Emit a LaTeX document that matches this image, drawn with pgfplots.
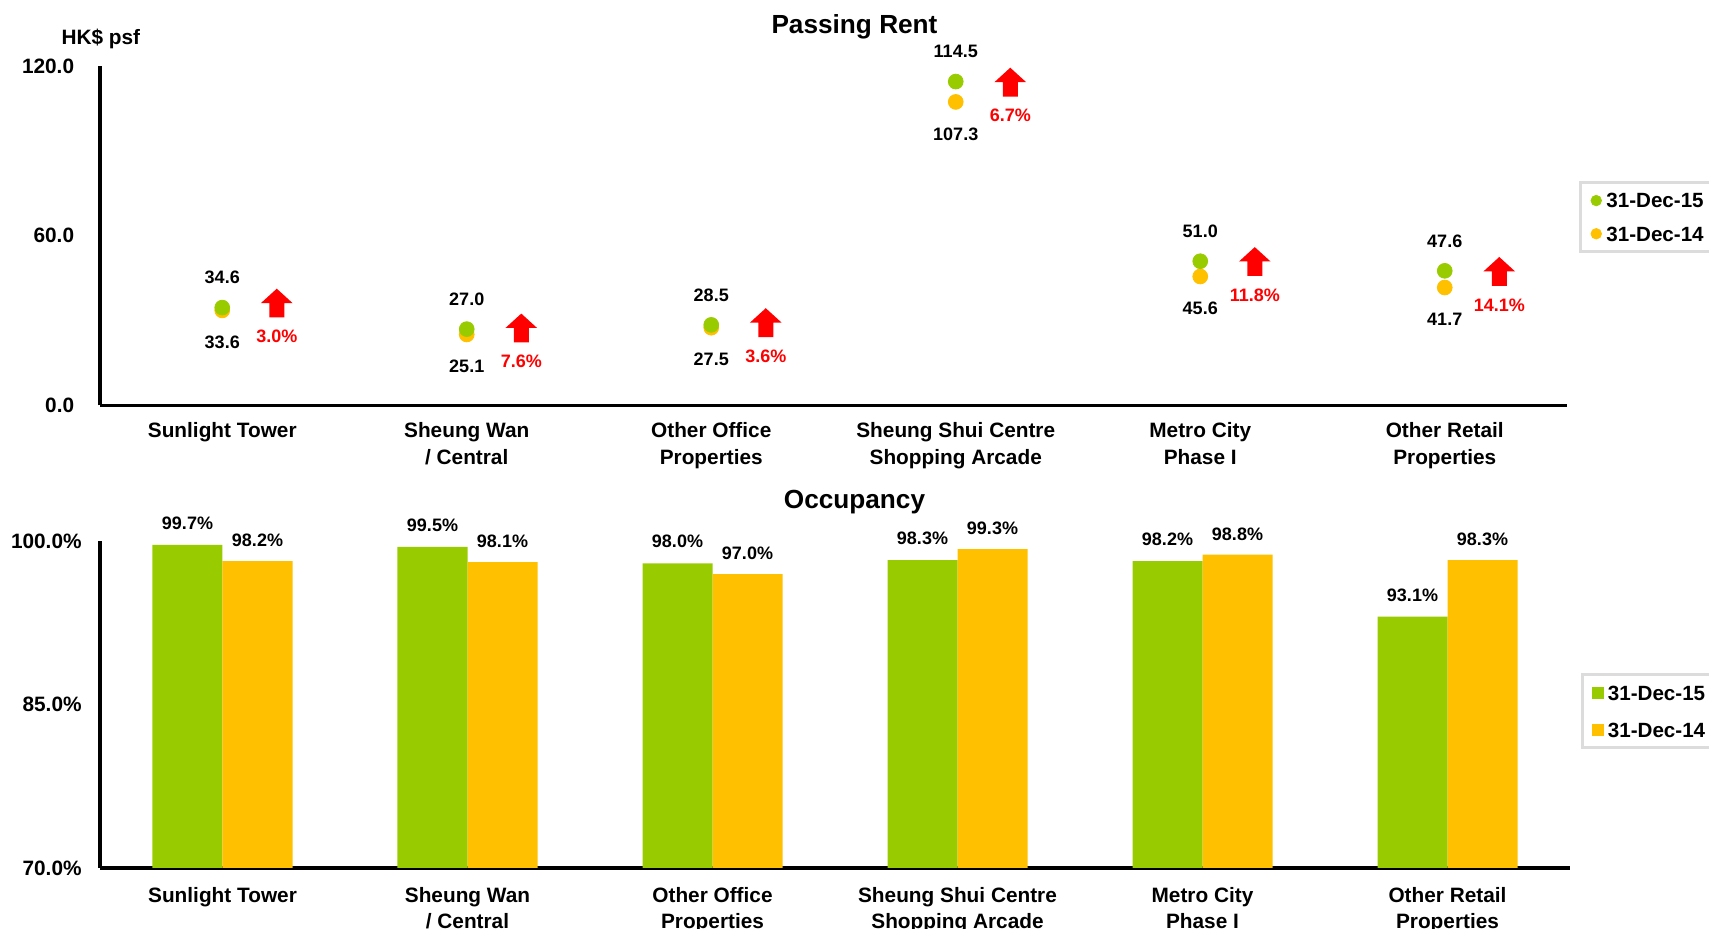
\documentclass[border=0pt]{standalone}
\usepackage{fontspec}
\setmainfont{Liberation Sans}
\usepackage{pgfplots}
\pgfplotsset{compat=1.18}
\definecolor{cgreen}{HTML}{99CC00}
\definecolor{corange}{HTML}{FFC000}
\definecolor{lgray}{HTML}{DCDCDC}
\pgfdeclareplotmark{uparrow}{%
  \pgfpathmoveto{\pgfqpoint{0pt}{7.2pt}}%
  \pgfpathlineto{\pgfqpoint{7.9pt}{0pt}}%
  \pgfpathlineto{\pgfqpoint{3.75pt}{0pt}}%
  \pgfpathlineto{\pgfqpoint{3.75pt}{-7.2pt}}%
  \pgfpathlineto{\pgfqpoint{-3.75pt}{-7.2pt}}%
  \pgfpathlineto{\pgfqpoint{-3.75pt}{0pt}}%
  \pgfpathlineto{\pgfqpoint{-7.9pt}{0pt}}%
  \pgfpathclose
  \pgfusepathqfill}
\newcommand\fsTick{\fontsize{10.4}{13.35}\selectfont\bfseries}
\newcommand\fsData{\fontsize{9}{10.8}\selectfont\bfseries}
\newcommand\fsLeg{\fontsize{10.3}{12}\selectfont\bfseries}
\newcommand\fsTitle{\fontsize{13.1}{15.7}\selectfont\bfseries}
\pgfplotsset{
  dotlegend/.style={legend image code/.code={\draw[##1, line width=0.3pt] plot coordinates {(0pt,0pt)};}},
  mylegend/.style 2 args={legend style={draw=lgray, line width=1.7pt, fill=white,
      inner xsep=5.1pt, inner ysep=#1, row sep=#2, column sep=2.4pt,
      font=\fsLeg, nodes={inner sep=0pt, text height=7.4pt, text depth=0pt}},
    legend cell align=left},
  common/.style={scale only axis, xmin=0, xmax=6,
    axis lines=left, axis line style={-, line width=1.75pt},
    xtick={0.5,1.5,2.5,3.5,4.5,5.5},
    xticklabels={Sunlight Tower, {Sheung Wan\\/ Central}, {Other Office\\Properties},
      {Sheung Shui Centre\\Shopping Arcade}, {Metro City\\Phase I}, {Other Retail\\Properties}},
    major tick length=0pt, tick style={draw=none}},
}
\begin{document}
\bfseries
\begin{tikzpicture}
\useasboundingbox (0pt,0pt) rectangle (854.5pt,-464.5pt);
\clip (0pt,0pt) rectangle (854.5pt,-464.5pt);

% ---------------- Passing Rent ----------------
\begin{axis}[common,
  at={(50pt,-202.75pt)}, anchor=south west,
  width=733.5pt, height=169.75pt,
  ymin=0, ymax=120, clip=false,
  ytick={0,60,120}, yticklabels={0.0,60.0,120.0},
  yticklabel style={font=\fsTick, inner sep=0pt, anchor=east, xshift=-12.75pt},
  xticklabel style={font=\fsTick, align=center, inner sep=0pt, anchor=north, yshift=-8.45pt},
  mylegend={5.2pt}{9.2pt},
  legend style={at={(1.00818,0.6610)}, anchor=north west},
]
\addlegendimage{only marks, mark=*, mark size=2.67pt, cgreen, dotlegend}
\addlegendentry{31-Dec-15}
\addlegendimage{only marks, mark=*, mark size=2.67pt, corange, dotlegend}
\addlegendentry{31-Dec-14}
% 31-Dec-14
\addplot[only marks, mark=*, mark size=3.7pt, color=corange, forget plot,
  point meta=explicit symbolic, nodes near coords,
  every node near coord/.append style={font=\fsData, text=black, anchor=center, yshift=-16pt}]
  coordinates {(0.5,33.6)[33.6] (1.5,25.1)[25.1] (2.5,27.5)[27.5]
               (3.5,107.3)[107.3] (4.5,45.6)[45.6] (5.5,41.7)[41.7]};
% 31-Dec-15
\addplot[only marks, mark=*, mark size=3.7pt, color=cgreen, forget plot,
  point meta=explicit symbolic, nodes near coords,
  every node near coord/.append style={font=\fsData, text=black, anchor=center, yshift=15pt}]
  coordinates {(0.5,34.6)[34.6] (1.5,27.0)[27.0] (2.5,28.5)[28.5]
               (3.5,114.5)[114.5] (4.5,51.0)[51.0] (5.5,47.6)[47.6]};
% change arrows
\addplot[only marks, mark=uparrow, color=red, forget plot,
  point meta=explicit symbolic, nodes near coords,
  every node near coord/.append style={font=\fsData, text=red, anchor=center, yshift=-16.8pt}]
  coordinates {(0.723,36.2)[3.0\%] (1.723,27.4)[7.6\%] (2.723,29.3)[3.6\%]
               (3.723,114.3)[6.7\%] (4.723,50.9)[11.8\%] (5.723,47.4)[14.1\%]};
\end{axis}

% ---------------- Occupancy ----------------
\begin{axis}[common,
  at={(50pt,-434pt)}, anchor=south west,
  width=735pt, height=163.25pt,
  ymin=70, ymax=100,
  ytick={70,85,100}, yticklabels={70.0\%,85.0\%,100.0\%},
  yticklabel style={font=\fsTick, inner sep=0pt, anchor=east, xshift=-9pt},
  xticklabel style={font=\fsTick, align=center, inner sep=0pt, anchor=north, yshift=-9.4pt},
  mylegend={5.25pt}{11.2pt},
  legend style={at={(1.00714,0.5972)}, anchor=north west},
]
\addlegendimage{only marks, mark=square*, mark size=2.67pt, cgreen, dotlegend}
\addlegendentry{31-Dec-15}
\addlegendimage{only marks, mark=square*, mark size=2.67pt, corange, dotlegend}
\addlegendentry{31-Dec-14}
\addplot[ybar, bar width=35pt, bar shift=-17.5pt, fill=cgreen, draw=none, forget plot,
  point meta=explicit symbolic, nodes near coords={\pgfplotspointmeta\%},
  every node near coord/.append style={font=\fsData, text=black, anchor=center, xshift=-17.5pt, yshift=10.8pt}]
  coordinates {(0.5,99.7)[99.7] (1.5,99.5)[99.5] (2.5,98.0)[98.0]
               (3.5,98.3)[98.3] (4.5,98.2)[98.2] (5.5,93.1)[93.1]};
\addplot[ybar, bar width=35pt, bar shift=17.5pt, fill=corange, draw=none, forget plot,
  point meta=explicit symbolic, nodes near coords={\pgfplotspointmeta\%},
  every node near coord/.append style={font=\fsData, text=black, anchor=center, xshift=17.5pt, yshift=10.3pt}]
  coordinates {(0.5,98.2)[98.2] (1.5,98.1)[98.1] (2.5,97.0)[97.0]
               (3.5,99.3)[99.3] (4.5,98.8)[98.8] (5.5,98.3)[98.3]};
\end{axis}

\node[font=\fsTitle, anchor=base, inner sep=0pt] at (427.25pt,-16.67pt) {Passing Rent};
\node[font=\fsTitle, anchor=base, inner sep=0pt] at (427.25pt,-254.25pt) {Occupancy};
\node[font=\fsTick, anchor=base west, inner sep=0pt] at (30.6pt,-22.5pt) {HK\$ psf};
\end{tikzpicture}
\end{document}
